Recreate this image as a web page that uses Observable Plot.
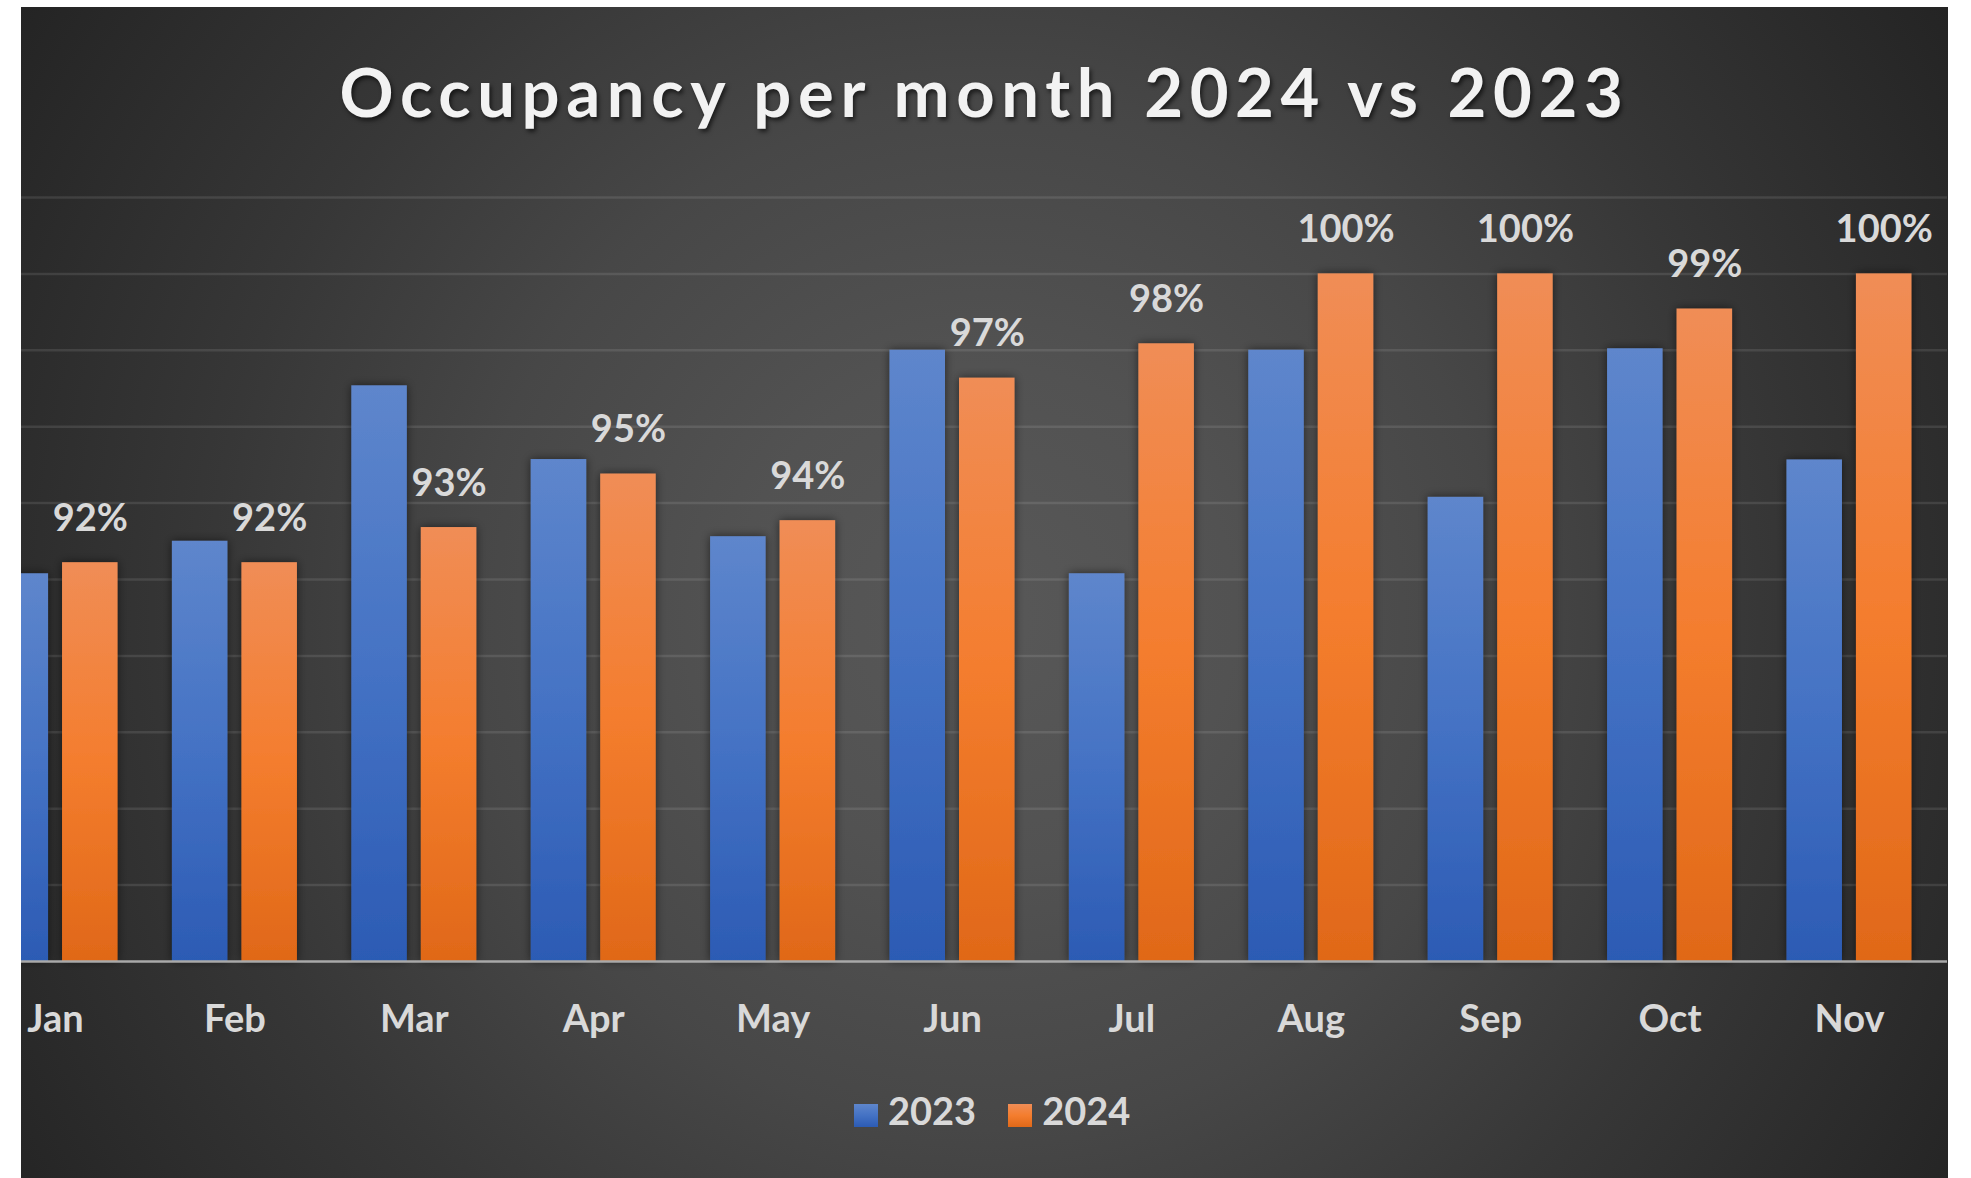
<!DOCTYPE html>
<html>
<head>
<meta charset="utf-8">
<script src="https://cdn.jsdelivr.net/npm/d3@7"></script>
<script src="https://cdn.jsdelivr.net/npm/@observablehq/plot@0.6"></script>
<style>
  html, body { margin: 0; padding: 0; background: #ffffff; }
  body { width: 1971px; height: 1178px; position: relative; overflow: hidden; }
  #panel {
    position: absolute; left: 21px; top: 7px; width: 1927px; height: 1171px;
    overflow: hidden;
    background: radial-gradient(circle farthest-corner at 50% 52%, #585858 0%, #525252 22%, #474747 45%, #373737 68%, #242424 100%);
    font-family: Lato, "Open Sans", sans-serif;
  }
  #title {
    position: absolute; left: 0; top: 51px; width: 100%; text-align: center;
    font: 700 67px/1 Lato, "Open Sans", sans-serif; color: #f2f2f2;
    text-shadow: 2px 3px 4px rgba(0,0,0,0.6);
    white-space: nowrap;
  }
  #chart { position: absolute; left: -64px; top: 143px; }
  #chart svg { display: block; }
  .bars { filter: url(#barShadow); }
  #legend {
    position: absolute; left: 833px; top: 1084px; display: flex; align-items: flex-start;
    font: 700 38px/1 Lato, "Open Sans", sans-serif; color: #d9d9d9; white-space: nowrap;
  }
  #legend .item { display: flex; align-items: flex-start; margin-right: 32px; }
  #legend .sw { width: 24px; height: 23px; margin-top: 13px; margin-right: 10px; }
</style>
</head>
<body>
<div id="panel">
  <div id="title">Occupancy per month 2024 vs 2023</div>
  <div id="chart"></div>
  <div id="legend"></div>
</div>
<script>
// ---- data ----
const months = ["Jan", "Feb", "Mar", "Apr", "May", "Jun", "Jul", "Aug", "Sep", "Oct", "Nov"];
const years = ["2023", "2024"];
const values2023 = [92.15, 93.0, 97.07, 95.14, 93.12, 98.0, 92.15, 98.0, 94.15, 98.04, 95.13];
const values2024 = [92.44, 92.44, 93.36, 94.76, 93.54, 97.27, 98.17, 100, 100, 99.08, 100];
const labels2024 = ["92%", "92%", "93%", "95%", "94%", "97%", "98%", "100%", "100%", "99%", "100%"];
const yDomain = [82, 102];
const gridValues = [84, 86, 88, 90, 92, 94, 96, 98, 100, 102];
const seriesColors = {
  "2023": ["#5e86cc", "#4472c4", "#2c5bb4"],
  "2024": ["#f08d56", "#f47d2e", "#e06818"]
};

// ---- build tables ----
const rows2023 = months.map((m, i) => ({month: m, year: "2023", value: values2023[i]}));
const rows2024 = months.map((m, i) => ({month: m, year: "2024", value: values2024[i], label: labels2024[i]}));

// ---- title letter spacing to match reference width ----
(function () {
  const t = document.getElementById("title");
  const ctx = document.createElement("canvas").getContext("2d");
  ctx.font = '700 67px Lato';
  const txt = t.textContent;
  const w = ctx.measureText(txt).width;
  const target = 1288;
  const ls = (target - w) / (txt.length - 1);
  t.style.letterSpacing = ls.toFixed(2) + "px";
})();

// bar layout inside each month band (band = 179.4px): two bars of 55.5px, 14px apart
const outer = 27.2, inner = 96.7, labelShift = 34.75;

const chart = Plot.plot({
  width: 1990,
  height: 910,
  marginTop: 47,
  marginBottom: 99,
  marginLeft: 0,
  marginRight: 0,
  style: {
    background: "transparent",
    color: "#d9d9d9",
    fontFamily: "Lato, 'Open Sans', sans-serif",
    fontSize: "38px",
    fontWeight: 700,
    maxWidth: "none",
    overflow: "visible"
  },
  x: {
    domain: months, paddingInner: 0, paddingOuter: 0.0465, round: false,
    axis: "bottom", tickSize: 0, tickPadding: 44, label: null
  },
  y: {domain: yDomain, axis: null},
  marks: [
    Plot.ruleY(gridValues, {stroke: "#ffffff", strokeOpacity: 0.1, strokeWidth: 2.5}),
    Plot.barY(rows2023, {x: "month", y1: yDomain[0], y2: "value", fill: "url(#grad2023)",
      insetLeft: outer, insetRight: inner, className: "bars"}),
    Plot.barY(rows2024, {x: "month", y1: yDomain[0], y2: "value", fill: "url(#grad2024)",
      insetLeft: inner, insetRight: outer, className: "bars"}),
    Plot.ruleY([yDomain[0]], {stroke: "#a9a9a9", strokeWidth: 2.5}),
    Plot.text(rows2024, {
      x: "month", y: "value", text: "label",
      dx: labelShift, dy: -44, fill: "#d9d9d9", fontSize: 38, fontWeight: 700
    })
  ]
});

// gradient + shadow definitions
const defs = d3.select(chart).insert("defs", ":first-child");
for (const y of years) {
  const g = defs.append("linearGradient").attr("id", `grad${y}`)
    .attr("x1", 0).attr("y1", 0).attr("x2", 0).attr("y2", 1);
  const c = seriesColors[y];
  g.append("stop").attr("offset", "0%").attr("stop-color", c[0]);
  g.append("stop").attr("offset", "50%").attr("stop-color", c[1]);
  g.append("stop").attr("offset", "100%").attr("stop-color", c[2]);
}
const f = defs.append("filter").attr("id", "barShadow")
  .attr("x", "-20%").attr("y", "-5%").attr("width", "140%").attr("height", "110%");
f.append("feDropShadow").attr("dx", 0).attr("dy", 0).attr("stdDeviation", 5)
  .attr("flood-color", "#000").attr("flood-opacity", 0.55);

document.getElementById("chart").appendChild(chart);

// legend
const legend = d3.select("#legend");
for (const y of years) {
  const c = seriesColors[y];
  const item = legend.append("div").attr("class", "item");
  item.append("span").attr("class", "sw")
    .style("background", `linear-gradient(${c[0]}, ${c[1]}, ${c[2]})`);
  item.append("span").text(y);
}
</script>
</body>
</html>
